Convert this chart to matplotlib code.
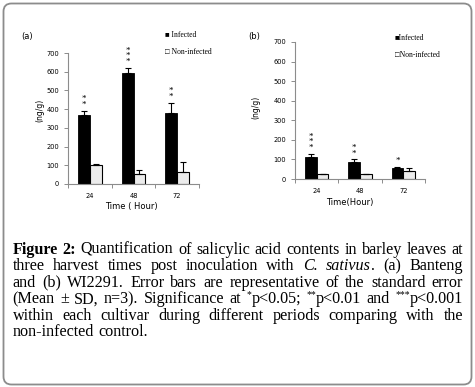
import re
import numpy as np
import matplotlib
matplotlib.use('Agg')
import matplotlib.pyplot as plt
from matplotlib.patches import FancyBboxPatch

plt.rcParams['font.family'] = 'DejaVu Sans'

W, H = 475, 387

# data (ng/g)
hours = ['24', '48', '72']
a_infected = [370, 595, 380]
a_infected_err = [20, 25, 53]
a_control = [102, 53, 65]
a_control_err = [5, 22, 50]
a_signif = ['**', '***', '**']

b_infected = [114, 88, 58]
b_infected_err = [14, 12, 4]
b_control = [25, 24, 41]
b_control_err = [1, 1, 14]
b_signif = ['***', '**', '*']

y_ticks = [0, 100, 200, 300, 400, 500, 600, 700]

caption = [
    "{b:Figure} {b:2:} Quantification of salicylic acid contents in barley leaves at",
    "three harvest times post inoculation with {i:C.} {i:sativus}. (a) Banteng",
    "and (b) WI2291. Error bars are representative of the standard error",
    "(Mean ± SD, n=3). Significance at {s:*}p<0.05; {s:**}p<0.01 and {s:***}p<0.001",
    "within each cultivar during different periods comparing with the",
    "non-infected control.",
]

GRAY = '#8c8c8c'
SERIF = ['Liberation Serif', 'DejaVu Serif']


def fx(x):
    return x / W


def fy(y):
    return 1 - y / H


def draw_panel(ax, inf, inf_err, ctrl, ctrl_err, signif):
    x = np.arange(len(hours))
    w = 0.27
    ekw = dict(ecolor='black', elinewidth=0.8, capsize=2.5, capthick=0.8)
    ax.bar(x - w / 2, inf, w, color='black', edgecolor='black', lw=0.6,
           yerr=[np.zeros(len(inf)), inf_err], error_kw=ekw)
    ax.bar(x + w / 2, ctrl, w, color='#ececec', edgecolor='black', lw=0.8,
           yerr=[np.zeros(len(ctrl)), ctrl_err], error_kw=ekw)

    # significance stars, stacked vertically above the infected bar
    for i, s in enumerate(signif):
        top = inf[i] + inf_err[i]
        ax.annotate('\n'.join(s), (x[i] - w / 2, top), xytext=(0, 2),
                    textcoords='offset pixels', ha='center', va='bottom',
                    fontsize=6.5, family=SERIF, linespacing=0.62)

    ax.set_xlim(-0.5, 2.5)
    ax.set_ylim(0, 700)
    ax.set_yticks(y_ticks)
    ax.set_xticks(x)
    ax.set_xticklabels(hours)
    ax.set_xticks([-0.5, 0.5, 1.5, 2.5], minor=True)
    ax.tick_params(axis='x', which='major', length=0, pad=6.5, labelsize=4.8)
    ax.tick_params(axis='x', which='minor', length=3, color=GRAY, width=0.7)
    ax.tick_params(axis='y', length=3, color=GRAY, width=0.7, pad=3.5, labelsize=4.8)
    for side in ['top', 'right']:
        ax.spines[side].set_visible(False)
    for side in ['left', 'bottom']:
        ax.spines[side].set_color(GRAY)
        ax.spines[side].set_linewidth(0.8)


def make_words(fig, line, size, y):
    items = []
    r = fig.canvas.get_renderer()
    for word in line.split(' '):
        segs = []
        wsum = 0
        for st, tagged, plain in re.findall(r'\{(\w):([^}]*)\}|([^{]+)', word):
            txt = tagged if st else plain
            st = st or 'n'
            fs = size * 0.6 if st == 's' else size
            t = fig.text(0, fy(y), txt, fontsize=fs, family=SERIF,
                         fontweight='bold' if st == 'b' else 'normal',
                         fontstyle='italic' if st == 'i' else 'normal',
                         va='baseline', ha='left')
            wd = t.get_window_extent(r).width
            segs.append((t, wd, st))
            wsum += wd
        items.append((segs, wsum))
    return items


def draw_caption(fig, lines, x0, x1, y0, step, base):
    # fit the font so the longest line (with normal spaces) nearly fills the width
    widest = 0
    for line in lines:
        items = make_words(fig, line, base, y0)
        nat = sum(ws for _, ws in items) + base * 100 / 72 * 0.25 * (len(items) - 1)
        widest = max(widest, nat)
        for segs, _ in items:
            for t, _, _ in segs:
                t.remove()
    size = min(base * (x1 - x0 - 4) / widest, 12.0)
    px = size * 100 / 72

    for i, line in enumerate(lines):
        y = y0 + i * step
        items = make_words(fig, line, size, y)
        total = sum(ws for _, ws in items)
        if i < len(lines) - 1:
            space = (x1 - x0 - total) / (len(items) - 1)
        else:
            space = px * 0.25
        x = x0
        for segs, ws in items:
            for t, wd, st in segs:
                t.set_x(fx(x))
                if st == 's':
                    t.set_y(fy(y - px * 0.36))
                x += wd
            x += space


fig = plt.figure(figsize=(W / 100, H / 100), dpi=100)

ax_a = fig.add_axes([fx(68), fy(184), fx(199) - fx(68), fy(53) - fy(184)])
draw_panel(ax_a, a_infected, a_infected_err, a_control, a_control_err, a_signif)

ax_b = fig.add_axes([fx(295), fy(179), fx(425) - fx(295), fy(42) - fy(179)])
draw_panel(ax_b, b_infected, b_infected_err, b_control, b_control_err, b_signif)

# panel labels, axis titles, legends
fig.text(fx(21), fy(37), '(a)', fontsize=6, va='center', ha='left')
fig.text(fx(248), fy(36), '(b)', fontsize=6, va='center', ha='left')
fig.text(fx(40), fy(110), '(ng/g)', fontsize=5.5, rotation=90, va='center', ha='center')
fig.text(fx(256), fy(107), '(ng/g)', fontsize=5.5, rotation=90, va='center', ha='center')
fig.text(fx(131), fy(207), 'Time ( Hour)', fontsize=6, va='center', ha='center')
fig.text(fx(350), fy(203), 'Time(Hour)', fontsize=6, va='center', ha='center')

fig.text(fx(165), fy(35), '■ Infected', fontsize=5.5, family=SERIF, va='center')
fig.text(fx(165), fy(52), '□ Non-infected', fontsize=5.5, family=SERIF, va='center')
fig.text(fx(395), fy(38), '■Infected', fontsize=5.5, family=SERIF, va='center')
fig.text(fx(395), fy(55), '□Non-infected', fontsize=5.5, family=SERIF, va='center')

draw_caption(fig, caption, 12.5, 463, 254, 16.4, 11)

box = FancyBboxPatch((3.5, H - 384.5), 468, 381,
                     boxstyle='round,pad=0,rounding_size=8',
                     transform=None, fill=False, edgecolor=GRAY, lw=1.3)
fig.add_artist(box)

fig.savefig('out.png', dpi=100)
